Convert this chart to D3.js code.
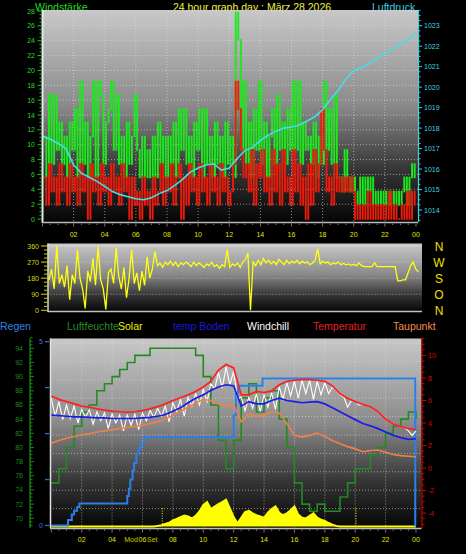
<!DOCTYPE html>
<html><head><meta charset="utf-8">
<script src="https://cdnjs.cloudflare.com/ajax/libs/d3/7.8.5/d3.min.js"></script>
<style>body{margin:0;background:#000;} svg{display:block;font-family:"Liberation Sans",Arial,sans-serif;}</style>
</head><body><svg id="c" width="466" height="554"></svg>
<script>
// ---------------- DATA ----------------
const titleText = "24 hour graph day : März 28 2026";
const hourTicks = [2,4,6,8,10,12,14,16,18,20,22,24];
const windTicks = [0,2,4,6,8,10,12,14,16,18,20,22,24,26,28];
const pressTicks = [1014,1015,1016,1017,1018,1019,1020,1021,1022,1023];
const dirTicks = [0,90,180,270,360];
const dirLabels = ["N","O","S","W","N"];
const humTicks = [70,72,74,76,78,80,82,84,86,88,90,92,94];
const tempTicks = [-4,-2,0,2,4,6,8,10];
const rainTicks = [0,1.25,2.5,3.75,5];
const legendNames = ["Regen","Luftfeuchte","Solar","temp Boden","Windchill","Temperatur","Taupunkt"];
const sunMarks = [7.3, 20.05];

// wind gust (green), 10-minute samples
const gust = [
11.1,5.6,16.7,7.4,16.7,9.3, 13.0,7.4,11.1,5.6,13.0,9.3, 14.8,5.6,18.5,7.4,13.0,5.6, 11.1,18.5,5.6,18.5,16.7,7.4,
13.0,14.8,18.5,9.3,16.7,7.4, 11.1,5.6,13.0,7.4,11.1,16.7, 9.3,5.6,11.1,5.6,9.3,5.6, 11.1,5.6,13.0,7.4,11.1,5.6,
11.1,7.4,13.0,5.6,14.8,9.3, 14.8,7.4,11.1,5.6,13.0,9.3, 14.8,5.6,14.8,7.4,11.1,5.6, 13.0,7.4,11.1,5.6,13.0,7.4,
11.1,5.6,27.8,24.1,9.3,18.5, 7.4,13.0,5.6,14.8,9.3,18.5, 7.4,13.0,5.6,11.1,14.8,7.4, 16.7,9.3,13.0,7.4,14.8,9.3,
18.5,9.3,18.5,7.4,13.0,9.3, 11.1,7.4,13.0,5.6,11.1,7.4, 18.5,9.3,14.8,7.4,16.7,5.6, 5.6,3.7,9.3,5.6,3.7,5.6,
3.7,1.9,5.6,1.9,5.6,3.7, 5.6,1.9,3.7,1.9,3.7,1.9, 3.7,1.9,3.7,1.9,3.7,1.9, 3.7,5.6,1.9,5.6,7.4,5.6];
// wind speed (red), 10-minute samples
const speed = [
5.6,1.9,7.4,3.7,5.6,1.9, 7.4,3.7,5.6,1.9,7.4,3.7, 5.6,1.9,7.4,3.7,5.6,0, 7.4,3.7,5.6,1.9,7.4,3.7,
5.6,1.9,7.4,3.7,5.6,1.9, 7.4,3.7,5.6,0,5.6,1.9, 3.7,0,5.6,1.9,3.7,0, 5.6,1.9,3.7,7.4,1.9,5.6,
3.7,7.4,1.9,5.6,7.4,0, 5.6,1.9,7.4,3.7,5.6,1.9, 7.4,3.7,5.6,1.9,7.4,3.7, 5.6,1.9,7.4,3.7,5.6,1.9,
3.7,7.4,18.5,14.8,9.3,5.6, 7.4,3.7,9.3,1.9,7.4,5.6, 9.3,3.7,5.6,1.9,9.3,3.7, 7.4,1.9,9.3,3.7,5.6,1.9,
9.3,3.7,7.4,1.9,5.6,0, 7.4,1.9,9.3,3.7,7.4,14.8, 9.3,3.7,5.6,1.9,7.4,3.7, 5.6,3.7,5.6,3.7,5.6,3.7,
0,1.9,0,1.9,0,3.7, 0,1.9,0,1.9,0,1.9, 0,3.7,0,1.9,0,0, 1.9,0,3.7,0,3.7,1.9];
// pressure (cyan), half-hourly
const pressure = [1017.6,1017.45,1017.25,1017.0,1016.2,1015.8,1015.6,1015.4,1015.15,1014.9,1014.75,1014.65,1014.55,
1014.5,1014.6,1014.8,1014.95,1015.2,1015.5,1015.85,1016.05,1016.2,1016.25,1015.95,1016.05,1016.5,1016.9,1017.05,
1017.4,1017.65,1017.85,1018.0,1018.05,1018.15,1018.35,1018.55,1018.9,1019.4,1019.85,1020.4,1020.8,1020.95,1021.15,
1021.4,1021.65,1021.85,1022.1,1022.3,1022.65];
// wind direction, 10-minute samples
const direction = [
170,230,120,360,150,200, 130,250,60,200,150,340, 180,120,10,220,160,290, 140,360,170,120,5,210,
230,150,350,190,120,240, 70,180,340,150,210,110, 220,140,300,180,230,330, 250,265,240,270,255,275,
250,270,245,265,255,270, 260,245,270,250,265,255, 240,260,250,270,245,255, 235,255,245,340,240,260,
250,265,240,270,285,320, 0,270,250,280,255,290, 265,280,260,275,255,285, 270,255,280,260,275,265,
280,260,275,265,270,255, 265,280,345,260,275,265, 270,255,265,260,270,255, 262,255,260,252,258,250,
265,250,245,245,245,245, 265,245,245,245,245,245, 245,245,245,165,165,170, 170,210,250,270,230,215];
// temperature, half-hourly
const temperature = [6.4,6.1,5.9,5.7,5.5,5.4,5.25,5.15,5.05,5.0,4.95,5.0,5.1,5.25,5.45,5.7,6.0,6.25,6.5,6.8,7.2,7.7,
8.7,9.2,8.9,6.5,6.5,6.8,6.7,6.85,7.4,7.7,7.8,7.85,7.85,7.8,7.7,7.3,6.6,6.2,5.9,5.65,5.45,5.0,4.35,3.9,3.7,3.5,3.4];
// soil temperature, half-hourly
const tempBoden = [4.7,4.65,4.6,4.55,4.55,4.5,4.45,4.45,4.4,4.4,4.4,4.4,4.45,4.5,4.6,4.75,5.05,5.35,5.8,6.2,6.5,6.9,
7.2,7.4,7.3,5.5,5.9,5.7,5.7,6.0,6.2,6.0,5.9,5.8,5.85,5.9,5.7,5.35,5.0,4.65,4.3,3.95,3.75,3.5,3.2,2.9,2.7,2.55,2.6];
// dew point, half-hourly
const dewPoint = [2.2,2.45,2.65,2.8,2.95,3.05,3.2,3.3,3.4,3.5,3.6,3.7,3.8,3.95,4.1,4.35,4.7,5.05,5.4,5.75,6.1,6.0,
5.7,5.5,5.6,4.1,4.8,4.6,4.7,5.0,4.9,3.95,2.9,2.75,2.9,3.1,2.8,2.45,2.15,1.9,1.7,1.45,1.55,1.6,1.4,1.2,1.1,1.05,1.0];
// windchill, quarter-hourly
const windchill = [6.2,4.6,5.9,4.3,5.6,4.4,5.5,4.0,5.2,4.5,5.2,3.9,5.0,4.2,4.9,3.5,4.8,4.0,4.7,3.3,4.7,3.8,4.8,3.4,
4.9,4.2,5.1,4.5,5.3,4.6,5.5,4.1,5.8,5.0,6.1,4.6,6.3,5.5,6.6,5.6,7.0,5.9,7.5,7.0,8.5,7.1,9.0,7.4,
8.6,6.2,6.3,5.1,6.3,5.3,6.6,5.0,6.5,5.4,6.7,5.2,7.2,6.1,7.6,6.4,7.7,6.2,7.8,6.6,7.8,6.1,7.7,6.5,
7.6,6.6,7.2,6.9,6.5,6.3,5.4,6.0,5.9,5.6,5.65,5.55,5.45,5.2,5.0,4.7,4.35,4.1,3.9,3.8,3.7,3.6,3.3,2.9,3.3];
// humidity, half-hourly
const humidity = [75,77,80,83,85,86,88,89,90,91,92,93,93,94,94,94,94,94,94,93,90,86,81,77,81,87,89,85,87,88,84,80,
75,72,71,72,71,71,73,75,77,77,79,80,82,83,84,85,84];
// solar radiation, quarter-hourly
const solar = [0,0,0,0,0,0,0,0,0,0,0,0,0,0,0,0,0,0,0,0,0,0,0,0,0,0,0,0,
5,10,20,30,48,60,75,88,80,64,85,120,170,195,140,160,180,195,215,145,75,25,70,115,125,105,90,80,
70,110,140,160,110,90,105,130,160,95,70,65,85,105,70,55,45,28,15,5,
0,0,0,0,0,0,0,0,0,0,0,0,0,0,0,0,0,0,0,0,0];
// rain (cumulative), event times and values
const rainT = [0,1.1,1.35,1.5,1.7,1.85,5.0,5.1,5.2,5.35,5.45,5.6,5.75,5.9,6.1,12.0,12.15,12.3,13.9,23.95,24];
const rainV = [0,0.15,0.3,0.4,0.5,0.6,0.8,1.0,1.25,1.5,1.7,1.95,2.1,2.25,2.4,3.0,3.6,3.8,4.0,0,0];

// ---------------- DRAWING ----------------
const svg = d3.select("#c");
const defs = svg.append("defs");
function grad(id, stops){
  const g = defs.append("linearGradient").attr("id",id).attr("x1",0).attr("y1",0).attr("x2",0).attr("y2",1);
  stops.forEach(([o,c]) => g.append("stop").attr("offset",o).attr("stop-color",c));
}
grad("gbg", [[0,"#c8c8c8"],[0.45,"#8a8a8a"],[0.75,"#363636"],[1,"#050505"]]);
function clip(id, P){ defs.append("clipPath").attr("id",id).append("rect").attr("x",P.l).attr("y",P.t).attr("width",P.r-P.l).attr("height",P.b-P.t); }
function tx(x,y,s,color,size,anchor){
  return svg.append("text").attr("x",x).attr("y",y).text(s).attr("fill",color).attr("font-size",size).attr("text-anchor",anchor||"start");
}
function ln(g,x1,y1,x2,y2,color,w,dash,op){
  const l = g.append("line").attr("x1",x1).attr("y1",y1).attr("x2",x2).attr("y2",y2).attr("stroke",color).attr("stroke-width",w||1);
  if(dash) l.attr("stroke-dasharray",dash);
  if(op!=null) l.attr("stroke-opacity",op);
  return l;
}
const hh = v => String(v % 24).padStart(2,"0");
const tenMin = d3.range(gust.length).map(i => i/6);
const halfH = d3.range(pressure.length).map(i => i/2);
const quarterH = d3.range(windchill.length).map(i => i/4);

// ---- titles
tx(35,10.5,"Windstärke","#22dd22",10.5);
tx(252,10.5,titleText,"#f0f040",10.5,"middle");
tx(372,10.5,"Luftdruck","#40d0e0",10.5);

// ======== PANEL 1 ========
const P1 = {l:42, r:418, t:10, b:222};
const X1 = d3.scaleLinear().domain([0,24]).range([42.5,416]);
const yW = d3.scaleLinear().domain([0,28]).range([219,11]);
const yP = d3.scaleLinear().domain([1014,1023]).range([210,25.7]);
clip("c1",P1);
const g1 = svg.append("g");
g1.append("rect").attr("x",P1.l).attr("y",P1.t).attr("width",P1.r-P1.l).attr("height",P1.b-P1.t).attr("fill","url(#gbg)");
hourTicks.slice(0,-1).forEach(h => ln(g1,X1(h),P1.t,X1(h),P1.b,"#e0e0e0",1,"1,2",0.6));
windTicks.slice(1).forEach(v => ln(g1,P1.l,yW(v),P1.r,yW(v),"#e0e0e0",1,"1,2",0.6));
const d1 = g1.append("g").attr("clip-path","url(#c1)");
// wind bars: each sample spans from the previous reading to the current one
const slotW = X1(1/6) - X1(0);
function windBars(vals, color){
  const rows = vals.map((v,i) => {
    const p = i > 0 ? vals[i-1] : v;
    return {t: tenMin[i], lo: Math.min(p,v), hi: Math.max(p,v)};
  });
  d1.append("g").selectAll("rect").data(rows).join("rect")
    .attr("x", d => X1(d.t) + 0.3)
    .attr("width", slotW - 0.7)
    .attr("y", d => yW(d.hi) - 0.8)
    .attr("height", d => Math.max(1.6, yW(d.lo) - yW(d.hi) + 1.6))
    .attr("fill", color);
}
windBars(gust, "#1ee81e");
windBars(speed, "#ee1a0a");
d1.append("path").datum(halfH.map((t,i)=>[t,pressure[i]])).attr("d",d3.line().x(d=>X1(d[0])).y(d=>yP(d[1]))).attr("fill","none").attr("stroke","#44dde8").attr("stroke-width",1.6);
ln(g1,P1.l+0.5,P1.t,P1.l+0.5,P1.b+1,"#e8e8e8",2);
ln(g1,P1.l,P1.b+0.5,P1.r,P1.b+0.5,"#b8b8b8",1.5);
// left axis
d3.range(0,28.01,0.5).forEach(v => ln(g1, v%2===0?37.5:39.5, yW(v), 41.5, yW(v), "#1ec81e", 1));
windTicks.forEach(v => tx(35,yW(v)+2.5,v,"#22dd22",7,"end"));
// right axis
ln(g1,P1.r+0.5,P1.t,P1.r+0.5,P1.b,"#40d0e0",1.2);
d3.range(1013.5,1023.76,0.25).forEach(v => ln(g1,P1.r+0.5,yP(v),P1.r+(Number.isInteger(v)?4:2.5),yP(v),"#40d0e0",1));
pressTicks.forEach(v => tx(424,yP(v)+2.5,v,"#40d0e0",7));
// x axis
d3.range(0,24.01,0.5).forEach(h => ln(g1,X1(h),P1.b+1.5,X1(h),P1.b+(h%2===0?4.5:3),"#7a7a60",1));
hourTicks.forEach(h => tx(X1(h),236.5,hh(h),"#e0e000",7,"middle"));

// ======== PANEL 2 ========
const P2 = {l:47.5, r:422, t:243.5, b:312};
const X2 = d3.scaleLinear().domain([0,24]).range([49,421]);
const yD = d3.scaleLinear().domain([0,360]).range([310.3,246]);
clip("c2",P2);
const g2 = svg.append("g");
g2.append("rect").attr("x",P2.l).attr("y",P2.t).attr("width",P2.r-P2.l).attr("height",P2.b-P2.t).attr("fill","url(#gbg)");
[90,180,270].forEach(v => ln(g2,P2.l,yD(v),P2.r,yD(v),"#e0e0e0",1,"1,2",0.6));
ln(g2,P2.l,yD(360),P2.r,yD(360),"#d8d8d8",1.2);
ln(g2,P2.l,P2.b-0.5,P2.r,P2.b-0.5,"#c0c0c0",1.5);
ln(g2,P2.l+0.5,P2.t,P2.l+0.5,P2.b,"#d8d8c0",1.5);
g2.append("g").attr("clip-path","url(#c2)").append("path")
  .datum(tenMin.map((t,i)=>[t,direction[i]]))
  .attr("d",d3.line().x(d=>X2(d[0])).y(d=>yD(d[1]))).attr("fill","none").attr("stroke","#ffff10").attr("stroke-width",1.3);
d3.range(0,360.1,22.5).forEach(v => ln(g2, v%90===0?41:44, yD(v), 47, yD(v), "#d8d800", 1));
dirTicks.forEach(v => tx(39,yD(v)+2.5,v,"#d8d800",7,"end"));
dirTicks.forEach((v,i) => tx(439,yD(v)+4.5,dirLabels[i],"#f0e000",12,"middle"));

// ======== LEGEND ========
const legendX = [0,67,118,173,247,313,393];
const legendC = ["#3a80e0","#2a8a2a","#f0f000","#1a1ad8","#ffffff","#e02020","#f08a50"];
legendNames.forEach((n,i) => tx(legendX[i],329.5,n,legendC[i],10.5));

// ======== PANEL 3 ========
const P3 = {l:50, r:421.5, t:338.5, b:528};
const X3 = d3.scaleLinear().domain([0,24]).range([51.3,416]);
const yH = d3.scaleLinear().domain([70,94]).range([518.3,348.3]);
const yT = d3.scaleLinear().domain([0,10]).range([468,355.5]);
const yR = d3.scaleLinear().domain([0,5]).range([525.5,341.7]);
const yS = d3.scaleLinear().domain([0,1500]).range([526.5,339]);
const yGrid = d3.scaleLinear().domain([0,10]).range([527,343]);
clip("c3",P3);
const g3 = svg.append("g");
g3.append("rect").attr("x",P3.l).attr("y",P3.t).attr("width",P3.r-P3.l).attr("height",P3.b-P3.t).attr("fill","url(#gbg)");
hourTicks.slice(0,-1).forEach(h => ln(g3,X3(h),P3.t,X3(h),P3.b,"#e0e0e0",1,"1,2",0.6));
d3.range(1,11).forEach(k => ln(g3,P3.l,yGrid(k),P3.r,yGrid(k),"#e0e0e0",1,"1,2",0.6));
const d3g = g3.append("g").attr("clip-path","url(#c3)");
// solar
const solData = quarterH.map((t,i)=>[t,solar[i]]);
d3g.append("path").datum(solData).attr("d",d3.area().x(d=>X3(d[0])).y0(yS(0)).y1(d=>yS(d[1]))).attr("fill","#ffff00");
d3g.append("path").datum(solData).attr("d",d3.line().x(d=>X3(d[0])).y(d=>yS(d[1]))).attr("fill","none").attr("stroke","#ffff00").attr("stroke-width",2);
sunMarks.forEach(h => ln(d3g,X3(h),508,X3(h),525,"#f0f000",1,"1,1.5"));
// humidity
d3g.append("path").datum(halfH.map((t,i)=>[t,humidity[i]])).attr("d",d3.line().x(d=>X3(d[0])).y(d=>yH(d[1])).curve(d3.curveStepAfter))
  .attr("fill","none").attr("stroke","#228b22").attr("stroke-width",1.6);
// rain
d3g.append("path").datum(rainT.map((t,i)=>[t,rainV[i]])).attr("d",d3.line().x(d=>X3(d[0])).y(d=>yR(d[1])).curve(d3.curveStepAfter))
  .attr("fill","none").attr("stroke","#2a80e8").attr("stroke-width",2);
const lineT = (ts, vs, color, w) => d3g.append("path").datum(ts.map((t,i)=>[t,vs[i]]))
  .attr("d",d3.line().x(d=>X3(d[0])).y(d=>yT(d[1]))).attr("fill","none").attr("stroke",color).attr("stroke-width",w);
lineT(quarterH, windchill, "#ffffff", 1.1);
lineT(halfH, dewPoint, "#f08048", 1.6);
lineT(halfH, tempBoden, "#1c1ce8", 1.7);
lineT(halfH, temperature, "#ff2020", 1.7);
ln(g3,P3.l+0.5,P3.t,P3.l+0.5,P3.b,"#e0e0e0",1.5);
ln(g3,P3.l,P3.b+0.5,P3.r,P3.b+0.5,"#c0c0c0",1.5);
// humidity axis
ln(g3,30,P3.t,30,P3.b,"#1a8a1a",1.3);
d3.range(69,95.51,0.5).forEach(v => ln(g3,30,yH(v),v%2===0?34:32.5,yH(v),"#1a8a1a",1));
humTicks.forEach(v => tx(23,yH(v)+2.5,v,"#1a8f1a",7,"end"));
// rain axis
rainTicks.forEach(v => ln(g3,45,yR(v),49,yR(v),"#3070d0",1.2));
[0,5].forEach(v => tx(43,yR(v)+2.5,v,"#3a78d8",7,"end"));
// temperature axis
ln(g3,P3.r+0.5,P3.t,P3.r+0.5,P3.b,"#c00000",1.2);
d3.range(-5,11.51,0.5).forEach(v => ln(g3,P3.r+0.5,yT(v),P3.r+(v%2===0?4.5:3),yT(v),"#d00000",1));
tempTicks.forEach(v => tx(428,yT(v)+2.5,v,"#e00000",7));
// x axis
d3.range(0,24.01,0.5).forEach(h => ln(g3,X3(h),P3.b+1.5,X3(h),P3.b+(h%2===0?4.5:3),"#7a7a60",1));
hourTicks.forEach(h => tx(X3(h),542,hh(h),"#e0e000",7,"middle"));
tx(137.8,542,"Mod","#c8c800",7,"end");
tx(147,542,"Set","#c8c800",7,"start");
</script></body></html>
